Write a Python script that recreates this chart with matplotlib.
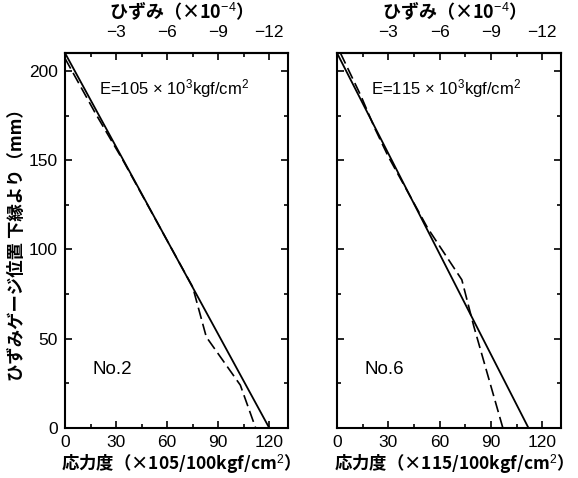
import matplotlib
matplotlib.use('Agg')
import matplotlib.pyplot as plt
from matplotlib.ticker import MultipleLocator

plt.rcParams['font.family'] = ['Liberation Sans', 'Noto Sans CJK JP', 'DejaVu Sans']
plt.rcParams['mathtext.fontset'] = 'custom'
plt.rcParams['mathtext.rm'] = 'Liberation Sans'
plt.rcParams['mathtext.it'] = 'Liberation Sans:italic'
plt.rcParams['mathtext.bf'] = 'Liberation Sans:bold'

JP = ['Noto Sans CJK JP', 'Liberation Sans', 'DejaVu Sans']

# No.2 (left panel)
no2_solid_x = [0, 120]
no2_solid_y = [210, 0]
no2_dash_x = [0, 18, 34, 75, 83, 103, 112]
no2_dash_y = [207, 176, 150, 79, 51, 24, 0]

# No.6 (right panel)
no6_solid_x = [0, 112]
no6_solid_y = [210, 0]
no6_dash_x = [2, 14, 22, 30, 53, 73, 80, 97]
no6_dash_y = [210, 186, 168, 152, 112, 83, 57, 0]

x_ticks = [0, 30, 60, 90, 120]
y_ticks = [0, 50, 100, 150, 200]
strain_ticks = [-3, -6, -9, -12]

panels = [
    dict(sx=no2_solid_x, sy=no2_solid_y, dx=no2_dash_x, dy=no2_dash_y,
         e_text='E=105 × 10$^3$kgf/cm$^2$', name='No.2', e_val='105',
         rect=[65/578, 1-428/478, 223/578, 375/478]),
    dict(sx=no6_solid_x, sy=no6_solid_y, dx=no6_dash_x, dy=no6_dash_y,
         e_text='E=115 × 10$^3$kgf/cm$^2$', name='No.6', e_val='115',
         rect=[337/578, 1-428/478, 224/578, 375/478]),
]

fig = plt.figure(figsize=(5.78, 4.78), dpi=100)

for i, p in enumerate(panels):
    ax = fig.add_axes(p['rect'])
    ax.plot(p['sx'], p['sy'], color='black', lw=1.3)
    ax.plot(p['dx'], p['dy'], color='black', lw=1.2, dashes=(7, 3))
    ax.set_xlim(0, 131)
    ax.set_ylim(0, 210)
    ax.set_xticks(x_ticks)
    ax.set_yticks(y_ticks)
    ax.xaxis.set_minor_locator(MultipleLocator(15))
    ax.yaxis.set_minor_locator(MultipleLocator(25))
    ax.tick_params(which='both', direction='in', top=False, right=True,
                   labelsize=12.5, width=1.2)
    ax.tick_params(which='major', length=5, pad=5)
    ax.tick_params(which='minor', length=3)
    if i > 0:
        ax.set_yticklabels([])
    for s in ax.spines.values():
        s.set_linewidth(1.5)

    ax.text(20, 190, p['e_text'], fontsize=12, va='center', ha='left')
    ax.text(16, 33, p['name'], fontsize=13.5, va='center', ha='left')

    ax.set_xlabel('応力度（×' + p['e_val'] + '/100kgf/cm$^2$）', fontsize=12.5,
                  family=JP, fontweight='bold', labelpad=2)
    if i == 0:
        ax.set_ylabel('ひずみゲージ位置 下縁より（mm）', fontsize=12.5,
                      family=JP, fontweight='bold', labelpad=2)

    top = ax.secondary_xaxis('top', functions=(lambda x: -x / 10, lambda s: -s * 10))
    top.set_xticks(strain_ticks)
    top.xaxis.set_minor_locator(MultipleLocator(1.5))
    top.tick_params(which='both', direction='in', labelsize=12.5, width=1.2)
    top.tick_params(which='major', length=5, pad=9)
    top.tick_params(which='minor', length=3)
    top.spines['top'].set_linewidth(1.5)
    top.set_xlabel('ひずみ（×10$^{-4}$）', fontsize=13, family=JP,
                   fontweight='bold', labelpad=5)

fig.savefig('out.png', dpi=100)
